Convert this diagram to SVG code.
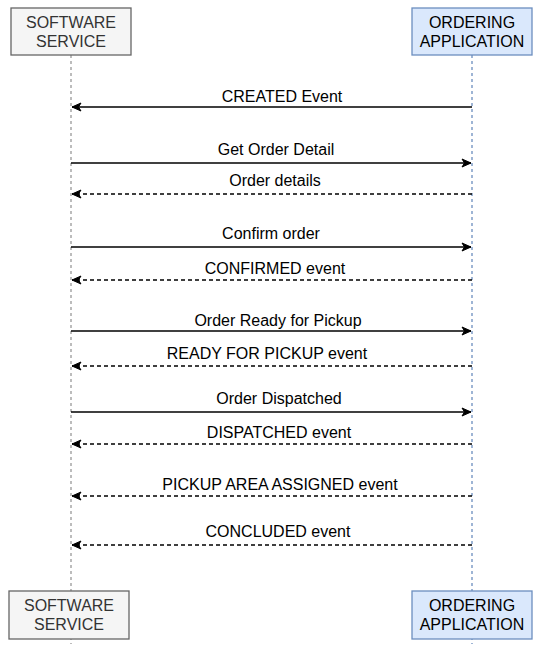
<svg xmlns="http://www.w3.org/2000/svg" width="537" height="646" viewBox="0 0 537 646">
<style>
text{font-family:"Liberation Sans",Arial,sans-serif;font-size:16px;text-anchor:middle}
.lbl{fill:#000}
.bt{fill:#333}
.sw{fill:#f5f5f5;stroke:#666;stroke-width:1.3}
.oa{fill:#dae8fc;stroke:#6c8ebf;stroke-width:1.3}
.ll1{stroke:#999;stroke-width:1.3;stroke-dasharray:3 3;fill:none}
.ll2{stroke:#6c8ebf;stroke-width:1.3;stroke-dasharray:3 3;fill:none}
.s{stroke:#000;stroke-width:1.3;fill:none}
.d{stroke:#000;stroke-width:1.3;fill:none;stroke-dasharray:4 3}
</style>
<defs>
<marker id="ah" markerWidth="12" markerHeight="12" refX="10" refY="6" orient="auto" markerUnits="userSpaceOnUse">
<path d="M1,2 L10,6 L1,10 L3.5,6 Z" fill="#000" stroke="#000" stroke-width="1"/>
</marker>
</defs>
<g id="lifelines">
<line class="ll1" x1="71" y1="55" x2="71" y2="644"/>
<line class="ll2" x1="472" y1="55" x2="472" y2="644"/>
</g>
<g id="connectors">
<line class="s" x1="472" y1="107" x2="72" y2="107" marker-end="url(#ah)"/>
<text class="lbl" x="282" y="102">CREATED Event</text>
<line class="s" x1="71" y1="163" x2="471" y2="163" marker-end="url(#ah)"/>
<text class="lbl" x="276" y="155">Get Order Detail</text>
<line class="d" x1="472" y1="194" x2="72" y2="194" marker-end="url(#ah)"/>
<text class="lbl" x="275" y="186">Order details</text>
<line class="s" x1="71" y1="247" x2="471" y2="247" marker-end="url(#ah)"/>
<text class="lbl" x="271" y="239">Confirm order</text>
<line class="d" x1="472" y1="280" x2="72" y2="280" marker-end="url(#ah)"/>
<text class="lbl" x="275" y="274">CONFIRMED event</text>
<line class="s" x1="71" y1="331" x2="471" y2="331" marker-end="url(#ah)"/>
<text class="lbl" x="278" y="326">Order Ready for Pickup</text>
<line class="d" x1="472" y1="366" x2="72" y2="366" marker-end="url(#ah)"/>
<text class="lbl" x="267" y="359">READY FOR PICKUP event</text>
<line class="s" x1="71" y1="412" x2="471" y2="412" marker-end="url(#ah)"/>
<text class="lbl" x="279" y="404">Order Dispatched</text>
<line class="d" x1="472" y1="444" x2="72" y2="444" marker-end="url(#ah)"/>
<text class="lbl" x="279" y="438">DISPATCHED event</text>
<line class="d" x1="472" y1="496" x2="72" y2="496" marker-end="url(#ah)"/>
<text class="lbl" x="280" y="490">PICKUP AREA ASSIGNED event</text>
<line class="d" x1="472" y1="545" x2="72" y2="545" marker-end="url(#ah)"/>
<text class="lbl" x="278" y="537">CONCLUDED event</text>
</g>
<g id="sw-top">
<rect class="sw" x="11" y="8" width="120" height="47"/>
<text class="bt" x="71" y="28">SOFTWARE</text>
<text class="bt" x="71" y="47">SERVICE</text>
</g>
<g id="oa-top">
<rect class="oa" x="412" y="8" width="120" height="47"/>
<text class="bt" x="472" y="28" style="fill:#000">ORDERING</text>
<text class="bt" x="472" y="47" style="fill:#000">APPLICATION</text>
</g>
<g id="sw-bottom">
<rect class="sw" x="9" y="591" width="120" height="48"/>
<text class="bt" x="69" y="611">SOFTWARE</text>
<text class="bt" x="69" y="630">SERVICE</text>
</g>
<g id="oa-bottom">
<rect class="oa" x="412" y="591" width="120" height="48"/>
<text class="bt" x="472" y="611" style="fill:#000">ORDERING</text>
<text class="bt" x="472" y="630" style="fill:#000">APPLICATION</text>
</g>
</svg>
